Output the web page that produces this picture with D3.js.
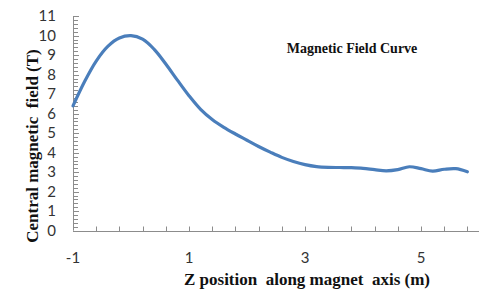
<!DOCTYPE html>
<html><head><meta charset="utf-8">
<script src="https://cdn.jsdelivr.net/npm/d3@7"></script>
<style>body{margin:0;background:#fff}svg{display:block}</style>
</head><body>
<script>
const positions = [-1,-0.8,-0.6,-0.4,-0.2,0,0.2,0.4,0.6,0.8,1.0,1.2,1.4,1.6,1.8,2.0,2.2,2.4,2.6,2.8,3.0,3.2,3.4,3.6,3.8,4.0,4.2,4.4,4.6,4.8,5.0,5.2,5.4,5.6,5.8];
const fieldValues = [6.4,7.65,8.7,9.45,9.88,10.0,9.82,9.3,8.55,7.72,6.92,6.22,5.7,5.3,4.96,4.64,4.32,4.03,3.76,3.55,3.39,3.29,3.25,3.24,3.23,3.2,3.13,3.07,3.13,3.28,3.18,3.06,3.15,3.18,3.02];
const xTickLabels = [-1,1,3,5];
const yTickLabels = [0,1,2,3,4,5,6,7,8,9,10,11];
const chartTitle = "Magnetic Field Curve";
const xTitle = "Z position  along magnet  axis (m)";
const yTitle = "Central magnetic  field (T)";

const W=481,H=290;
const svg=d3.select("body").append("svg").attr("width",W).attr("height",H);
const x=d3.scaleLinear().domain([-1,6]).range([73,479]);
const y=d3.scaleLinear().domain([0,11]).range([230.7,16.2]);
const axisColor="#8c8c8c";

// y axis
const gy=svg.append("g").attr("transform",`translate(${x(-1)},0)`);
const yMinor=d3.range(0,11.0001,0.2);
gy.selectAll("line.t").data(yMinor).join("line")
  .attr("x1",0).attr("x2",d=>Math.abs(d-Math.round(d))<1e-6?6:5)
  .attr("y1",d=>Math.round(y(d))+0.5).attr("y2",d=>Math.round(y(d))+0.5)
  .attr("stroke",axisColor).attr("stroke-width",1);
gy.append("line").attr("x1",0.5).attr("x2",0.5).attr("y1",y(11)).attr("y2",y(0)).attr("stroke",axisColor);
gy.selectAll("text").data(yTickLabels).join("text")
  .attr("x",-17).attr("y",d=>y(d)).attr("dy","0.35em").attr("text-anchor","end")
  .attr("font-family","Lato, 'Open Sans', sans-serif").attr("font-size",15).attr("fill","#333")
  .text(d=>d);

// x axis
const gx=svg.append("g").attr("transform",`translate(0,${Math.round(y(0))+0.5})`);
gx.append("line").attr("x1",x(-1)).attr("x2",x(6)).attr("stroke",axisColor);
const xMinor=d3.range(-0.6,5.8001,0.4);
gx.selectAll("line.t").data(xMinor).join("line")
  .attr("x1",d=>Math.round(x(d))+0.5).attr("x2",d=>Math.round(x(d))+0.5)
  .attr("y1",0).attr("y2",-5).attr("stroke",axisColor);
gx.selectAll("text").data(xTickLabels).join("text")
  .attr("x",d=>x(d)).attr("y",31).attr("text-anchor","middle")
  .attr("font-family","Lato, 'Open Sans', sans-serif").attr("font-size",15).attr("fill","#333")
  .text(d=>d);

// line
const line=d3.line().x((d,i)=>x(positions[i])).y(d=>y(d)).curve(d3.curveCatmullRom.alpha(0.5));
svg.append("path").datum(fieldValues).attr("d",line)
  .attr("fill","none").attr("stroke","#4a7ebb").attr("stroke-width",3.2).attr("stroke-linecap","round");

// titles
svg.append("text").attr("x",352).attr("y",53).attr("text-anchor","middle")
  .attr("font-family","'Liberation Serif', serif").attr("font-weight","bold").attr("font-size",14)
  .attr("fill","#111").style("white-space","pre").text(chartTitle);
svg.append("text").attr("x",307).attr("y",285).attr("text-anchor","middle")
  .attr("font-family","'Liberation Serif', serif").attr("font-weight","bold").attr("font-size",17)
  .attr("fill","#111").style("white-space","pre").text(xTitle);
svg.append("text").attr("transform","translate(38,146) rotate(-90)").attr("text-anchor","middle")
  .attr("font-family","'Liberation Serif', serif").attr("font-weight","bold").attr("font-size",17)
  .attr("fill","#111").style("white-space","pre").text(yTitle);
</script>
</body></html>
